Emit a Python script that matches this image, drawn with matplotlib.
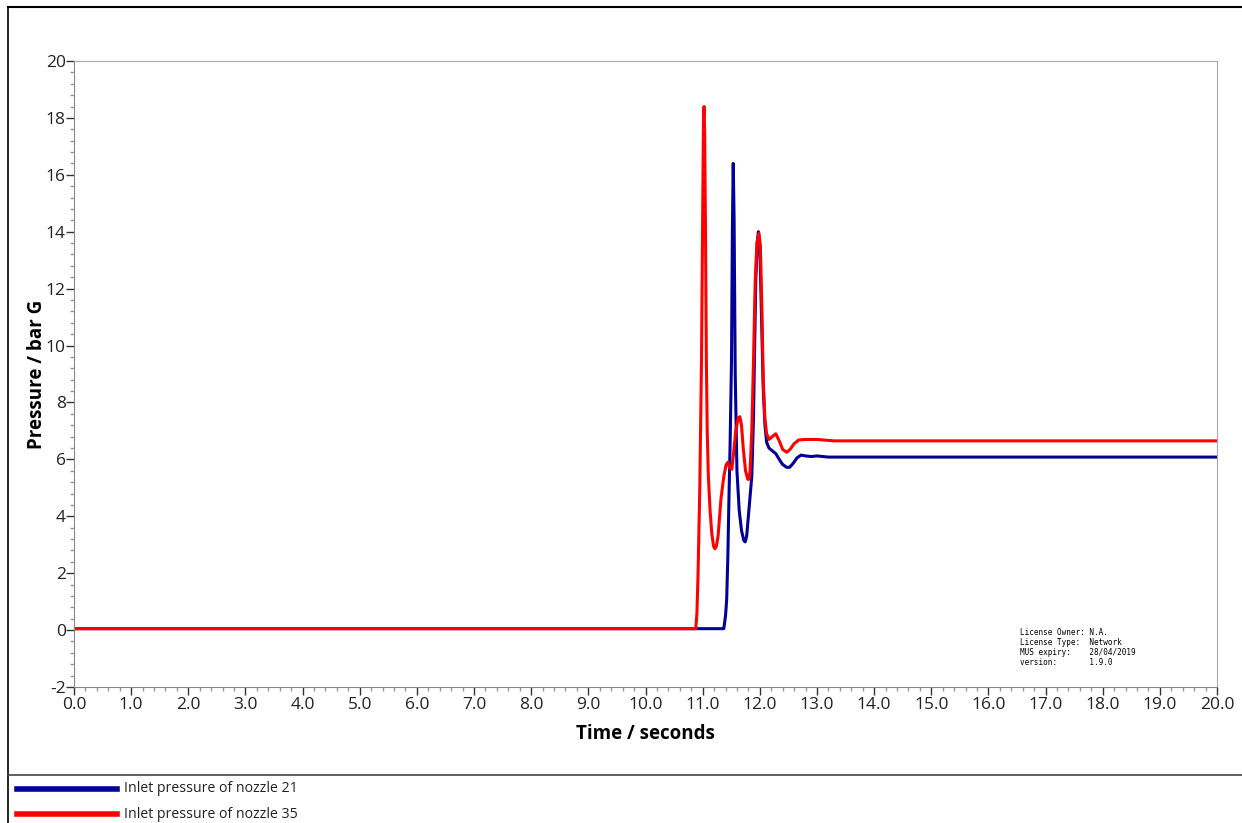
import numpy as np
import matplotlib
matplotlib.use('Agg')
import matplotlib.pyplot as plt
import matplotlib.ticker as ticker
from matplotlib.lines import Line2D

# Inlet pressure of nozzle 35
t_n35 = [0.0, 10.88, 10.90, 10.92, 10.95, 10.98, 11.0, 11.015, 11.025, 11.035,
         11.05, 11.065, 11.08, 11.10, 11.13, 11.16, 11.19, 11.215, 11.24, 11.27,
         11.32, 11.37, 11.41, 11.44, 11.475, 11.51, 11.54, 11.58, 11.62, 11.65,
         11.68, 11.71, 11.75, 11.79, 11.81, 11.83, 11.86, 11.89, 11.92, 11.95,
         11.985, 12.01, 12.04, 12.06, 12.09, 12.12, 12.16, 12.22, 12.28, 12.34,
         12.40, 12.47, 12.53, 12.60, 12.68, 12.80, 13.0, 13.3, 20.0]
p_n35 = [0.05, 0.05, 0.6, 2.0, 5.0, 9.5, 14.5, 18.0, 18.4, 17.5,
         14.0, 9.5, 7.0, 5.4, 4.2, 3.4, 2.95, 2.86, 2.95, 3.3,
         4.6, 5.4, 5.8, 5.9, 5.7, 5.65, 6.2, 7.0, 7.45, 7.5,
         7.2, 6.4, 5.6, 5.3, 5.3, 5.6, 7.0, 9.5, 12.3, 13.6,
         13.95, 13.5, 11.0, 8.8, 7.4, 6.9, 6.7, 6.8, 6.9, 6.65,
         6.35, 6.25, 6.35, 6.55, 6.68, 6.7, 6.7, 6.65, 6.65]

# Inlet pressure of nozzle 21
t_n21 = [0.0, 11.37, 11.40, 11.42, 11.44, 11.46, 11.48, 11.505, 11.52, 11.535,
         11.55, 11.57, 11.60, 11.64, 11.68, 11.72, 11.745, 11.77, 11.80, 11.83,
         11.86, 11.89, 11.91, 11.93, 11.955, 11.975, 12.00, 12.03, 12.06, 12.09,
         12.12, 12.16, 12.22, 12.28, 12.34, 12.40, 12.47, 12.52, 12.58, 12.65,
         12.72, 12.80, 12.90, 13.0, 13.2, 20.0]
p_n21 = [0.05, 0.05, 0.5, 1.05, 2.5, 4.6, 6.5, 9.5, 14.0, 16.4,
         14.5, 9.0, 5.6, 4.2, 3.5, 3.15, 3.1, 3.3, 4.0, 4.7,
         5.4, 7.5, 10.0, 12.3, 13.6, 14.0, 13.5, 11.0, 8.5, 7.2,
         6.6, 6.4, 6.3, 6.2, 6.0, 5.82, 5.72, 5.72, 5.85, 6.05,
         6.15, 6.12, 6.1, 6.12, 6.08, 6.08]

labels = ['Inlet pressure of nozzle 21', 'Inlet pressure of nozzle 35']
colors = ['#000099', '#ff0000']

plt.rcParams['font.family'] = ['Open Sans', 'DejaVu Sans']
plt.rcParams['axes.unicode_minus'] = False

fig = plt.figure(figsize=(12.42, 8.23), dpi=100)
ax = fig.add_axes([74/1242, 1 - 687/823, (1217-74)/1242, (687-61)/823])

ax.plot(t_n21, p_n21, color=colors[0], lw=2.2, solid_joinstyle='round')
ax.plot(t_n35, p_n35, color=colors[1], lw=2.2, solid_joinstyle='round')

ax.set_xlim(0, 20)
ax.set_ylim(-2, 20)
ax.xaxis.set_major_locator(ticker.MultipleLocator(1))
ax.xaxis.set_minor_locator(ticker.MultipleLocator(0.2))
ax.yaxis.set_major_locator(ticker.MultipleLocator(2))
ax.yaxis.set_minor_locator(ticker.MultipleLocator(0.4))
ax.xaxis.set_major_formatter(ticker.FormatStrFormatter('%.1f'))
ax.tick_params(which='major', length=6, width=1, color='#333333',
               labelsize=12.5, labelcolor='#222222', pad=1)
ax.tick_params(axis='y', which='major', pad=0)
ax.tick_params(which='minor', length=3, width=1, color='#999999')
for s in ax.spines.values():
    s.set_color('#aaaaaa')
ax.spines['left'].set_color('#888888')
ax.spines['bottom'].set_color('#888888')

ax.set_xlabel('Time / seconds', fontsize=13.5, fontweight='bold', labelpad=8)
ax.set_ylabel('Pressure / bar G', fontsize=13.5, fontweight='bold', labelpad=-1)

lic = ('License Owner: N.A.\nLicense Type:  Network\n'
       'MUS expiry:    28/04/2019\nversion:       1.9.0')
ax.text(0.828, 0.094, lic, transform=ax.transAxes, family='DejaVu Sans Mono',
        fontsize=5.5, va='top', ha='left', linespacing=1.15)

# outer frame and legend panel
fig.add_artist(Line2D([8/1242, 8/1242], [0, 1 - 7/823], color='black', lw=1.2))
fig.add_artist(Line2D([8/1242, 1], [1 - 7/823, 1 - 7/823], color='black', lw=1.5))
fig.add_artist(Line2D([8/1242, 1], [1 - 775/823, 1 - 775/823], color='#444444', lw=1.2))

for i, (lab, c) in enumerate(zip(labels, colors)):
    yy = 1 - (789 + i * 25) / 823
    fig.add_artist(Line2D([17/1242, 117/1242], [yy, yy], color=c, lw=4))
    fig.text(124/1242, yy, lab, fontsize=10.2, va='center', ha='left', color='#222222')

plt.savefig('out.png', dpi=100)
